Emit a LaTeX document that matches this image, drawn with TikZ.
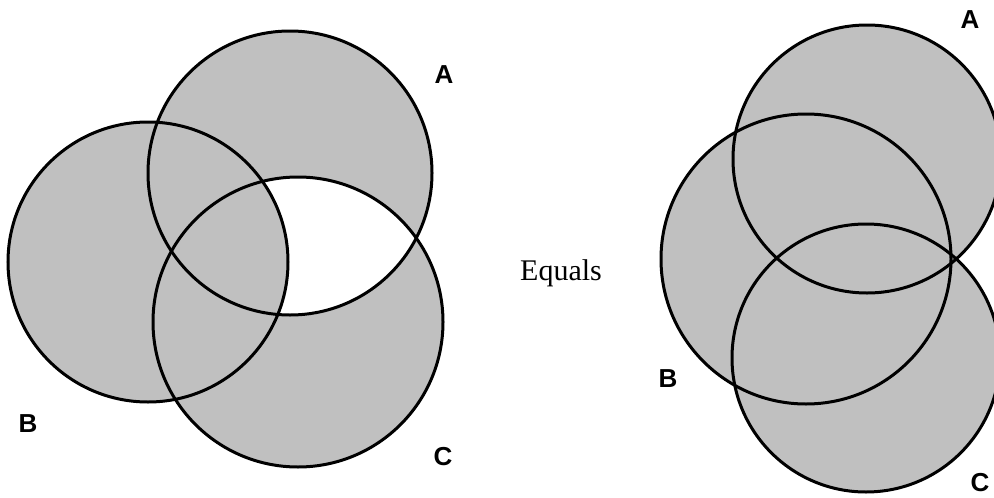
\documentclass[tikz,border=0pt]{standalone}
\usepackage{fontspec}
\setmainfont{Liberation Serif}
\newfontfamily\lblfont{Liberation Sans}
\begin{document}
\begin{tikzpicture}[x=1pt,y=-1pt,
  circ/.style={draw=black,line width=3pt},
  lbl/.style={font=\lblfont\bfseries\fontsize{26}{26}\selectfont,inner sep=0pt,anchor=base},
  shade/.style={fill=gray75}]
\definecolor{gray75}{RGB}{192,192,192}
\useasboundingbox (0,0) rectangle (994,498);
% left diagram
\coordinate (LA) at (290,173);
\coordinate (LB) at (148,262);
\coordinate (LC) at (298,322);
\fill[gray75] (LA) circle (142) (LB) circle (140) (LC) circle (145);
\begin{scope}
  \clip (LA) circle (142);
  \clip (LC) circle (145);
  \fill[white] (0,0) rectangle (500,498);
  \fill[gray75] (LB) circle (140);
\end{scope}
\draw[circ] (LA) circle (142);
\draw[circ] (LB) circle (140);
\draw[circ] (LC) circle (145);
\node[lbl] (la) at (444,83) {A};
\node[lbl] (lb) at (28,432) {B};
\node[lbl] (lc) at (443,465) {C};
% middle text
\node[font=\fontsize{30}{30}\selectfont,inner sep=0pt,anchor=base] (eq) at (561,280) {Equals};
% right diagram
\coordinate (RA) at (867,159);
\coordinate (RB) at (806,259);
\coordinate (RC) at (866,358);
\fill[gray75] (RA) circle (134) (RB) circle (145) (RC) circle (134);
\draw[circ] (RA) circle (134);
\draw[circ] (RB) circle (145);
\draw[circ] (RC) circle (134);
\node[lbl] (ra) at (970,28) {A};
\node[lbl] (rb) at (668,387) {B};
\node[lbl] (rc) at (980,491) {C};
\end{tikzpicture}
\end{document}
